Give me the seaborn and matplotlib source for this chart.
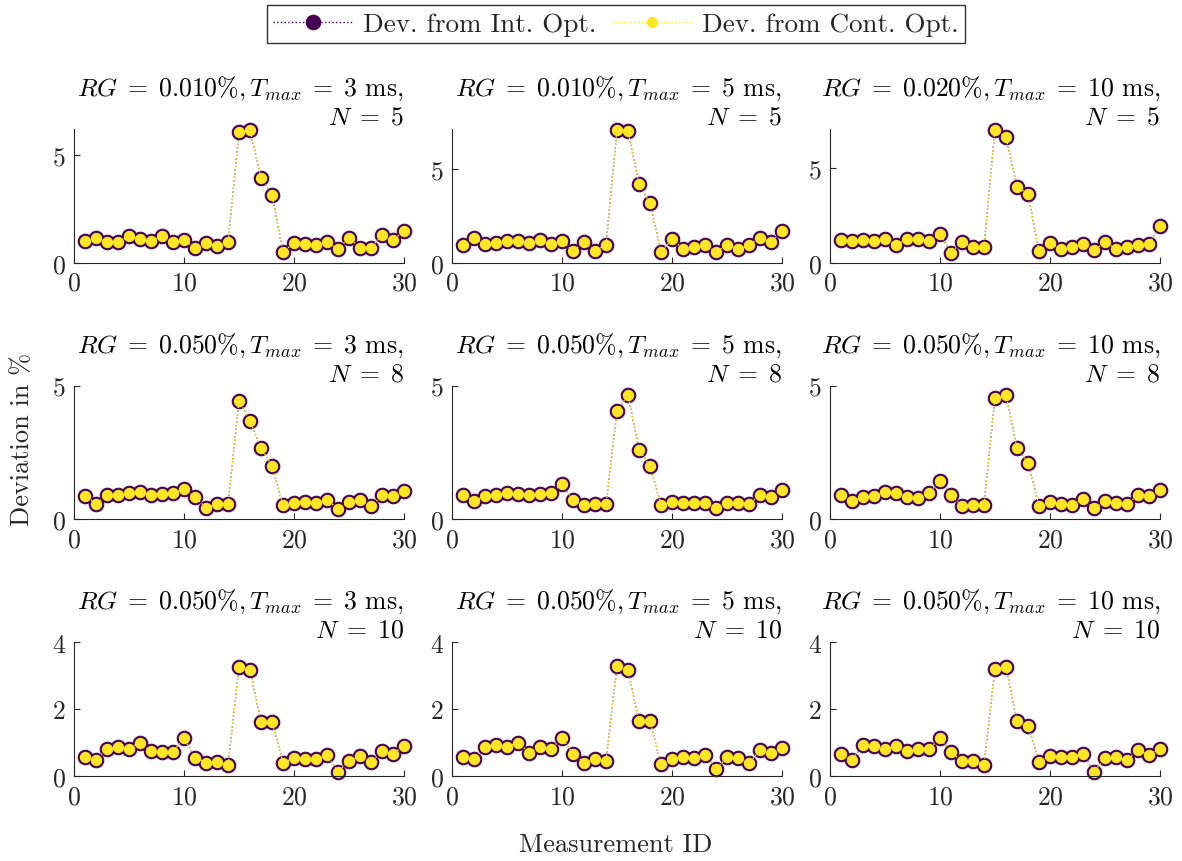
import numpy as np
import pandas as pd
import matplotlib
matplotlib.use("Agg")
import matplotlib.pyplot as plt
import seaborn as sns

# ---------------- data ----------------
measurement_id = list(range(1, 31))

rg_values = ["0.010", "0.010", "0.020", "0.050", "0.050", "0.050", "0.050", "0.050", "0.050"]
tmax_values = [3, 5, 10, 3, 5, 10, 3, 5, 10]
n_values = [5, 5, 5, 8, 8, 8, 10, 10, 10]

dev_int_1 = [0.99, 1.14, 0.96, 0.96, 1.22, 1.08, 1.03, 1.23, 0.96, 1.05, 0.68, 0.91, 0.80, 0.96, 6.05,
             6.14, 3.94, 3.15, 0.49, 0.93, 0.86, 0.82, 0.96, 0.63, 1.17, 0.69, 0.68, 1.30, 1.05, 1.48]
dev_int_2 = [0.96, 1.32, 1.00, 1.07, 1.14, 1.18, 1.04, 1.23, 1.02, 1.18, 0.61, 1.11, 0.64, 0.96, 7.11,
             7.05, 4.23, 3.18, 0.59, 1.25, 0.75, 0.82, 0.96, 0.57, 0.96, 0.71, 0.96, 1.34, 1.09, 1.71]
dev_int_3 = [1.18, 1.13, 1.20, 1.16, 1.23, 0.92, 1.27, 1.23, 1.13, 1.51, 0.53, 1.09, 0.83, 0.81, 7.00,
             6.62, 4.00, 3.64, 0.60, 1.04, 0.74, 0.83, 0.97, 0.65, 1.09, 0.74, 0.83, 0.93, 0.99, 1.94]
dev_int_4 = [0.89, 0.59, 0.90, 0.93, 0.98, 1.04, 0.93, 0.95, 0.98, 1.14, 0.84, 0.43, 0.56, 0.58, 4.43,
             3.67, 2.65, 2.01, 0.52, 0.60, 0.64, 0.60, 0.73, 0.40, 0.65, 0.72, 0.49, 0.90, 0.89, 1.05]
dev_int_5 = [0.93, 0.68, 0.87, 0.93, 1.00, 0.95, 0.90, 0.96, 1.00, 1.32, 0.71, 0.55, 0.58, 0.56, 4.04,
             4.66, 2.61, 1.99, 0.55, 0.65, 0.62, 0.61, 0.62, 0.42, 0.62, 0.62, 0.58, 0.90, 0.85, 1.11]
dev_int_6 = [0.90, 0.67, 0.82, 0.86, 1.02, 1.00, 0.85, 0.81, 0.98, 1.43, 0.92, 0.50, 0.55, 0.55, 4.55,
             4.66, 2.66, 2.10, 0.50, 0.65, 0.56, 0.53, 0.77, 0.42, 0.67, 0.62, 0.57, 0.90, 0.87, 1.09]
dev_int_7 = [0.56, 0.49, 0.82, 0.86, 0.82, 1.00, 0.74, 0.71, 0.73, 1.13, 0.55, 0.40, 0.42, 0.32, 3.27,
             3.17, 1.60, 1.60, 0.40, 0.53, 0.52, 0.52, 0.62, 0.12, 0.46, 0.59, 0.42, 0.74, 0.67, 0.90]
dev_int_8 = [0.56, 0.50, 0.87, 0.94, 0.88, 1.00, 0.70, 0.87, 0.81, 1.13, 0.67, 0.40, 0.50, 0.44, 3.30,
             3.16, 1.63, 1.63, 0.36, 0.52, 0.56, 0.54, 0.64, 0.20, 0.56, 0.54, 0.38, 0.78, 0.70, 0.85]
dev_int_9 = [0.65, 0.47, 0.94, 0.90, 0.80, 0.90, 0.74, 0.80, 0.80, 1.13, 0.72, 0.44, 0.46, 0.34, 3.20,
             3.26, 1.63, 1.51, 0.42, 0.60, 0.57, 0.57, 0.66, 0.12, 0.54, 0.57, 0.47, 0.77, 0.64, 0.82]

# the continuous-optimum deviations coincide with the integer ones in the picture
dev_cont_1 = list(dev_int_1)
dev_cont_2 = list(dev_int_2)
dev_cont_3 = list(dev_int_3)
dev_cont_4 = list(dev_int_4)
dev_cont_5 = list(dev_int_5)
dev_cont_6 = list(dev_int_6)
dev_cont_7 = list(dev_int_7)
dev_cont_8 = list(dev_int_8)
dev_cont_9 = list(dev_int_9)

dev_int = [dev_int_1, dev_int_2, dev_int_3, dev_int_4, dev_int_5, dev_int_6, dev_int_7, dev_int_8, dev_int_9]
dev_cont = [dev_cont_1, dev_cont_2, dev_cont_3, dev_cont_4, dev_cont_5, dev_cont_6, dev_cont_7, dev_cont_8, dev_cont_9]

series_labels = ["Dev. from Int. Opt.", "Dev. from Cont. Opt."]
x_ticks = [0, 10, 20, 30]
y_ticks_rows = [[0, 5], [0, 5], [0, 2, 4]]
y_top = [6.2, 7.15, 7.05, 5, 5, 5, 4, 4, 4]

# ---------------- style ----------------
sns.set_style("ticks")
plt.rcParams["font.family"] = ["cmr10", "DejaVu Serif"]
plt.rcParams["mathtext.fontset"] = "cm"
plt.rcParams["axes.formatter.use_mathtext"] = True
plt.rcParams["axes.unicode_minus"] = False

PURPLE = "#440154"
YELLOW = "#FDE725"
AX_COL = "#262626"

fig, axes = plt.subplots(3, 3, figsize=(11.82, 8.62), dpi=100)
fig.subplots_adjust(left=0.0626, right=0.9814, bottom=0.0986, top=0.8492,
                    wspace=0.145, hspace=0.918)

for i, ax in enumerate(axes.flat):
    df = pd.DataFrame({"id": measurement_id, "int": dev_int[i], "cont": dev_cont[i]})
    sns.lineplot(data=df, x="id", y="int", ax=ax, color=PURPLE, linestyle=":", linewidth=1.0,
                 marker="o", markersize=10.5, markerfacecolor=PURPLE, markeredgecolor=PURPLE,
                 label=series_labels[0], legend=False)
    sns.lineplot(data=df, x="id", y="cont", ax=ax, color=YELLOW, linestyle=":", linewidth=1.0,
                 marker="o", markersize=7.4, markerfacecolor=YELLOW, markeredgecolor=YELLOW,
                 label=series_labels[1], legend=False)
    ax.set_xlim(0, 30)
    ax.set_ylim(0, y_top[i])
    ax.set_xticks(x_ticks)
    ax.set_yticks(y_ticks_rows[i // 3])
    ax.set_xlabel("")
    ax.set_ylabel("")
    for side in ["top", "right"]:
        ax.spines[side].set_visible(False)
    for side in ["left", "bottom"]:
        ax.spines[side].set_color(AX_COL)
        ax.spines[side].set_linewidth(0.8)
    ax.tick_params(direction="in", length=4, width=0.8, colors=AX_COL, labelsize=18.5,
                   labelcolor=AX_COL, pad=6)
    for line in ax.lines:
        line.set_clip_on(False)
    title = (r"$RG\;=\;%s\%%, T_{max}\;=\;%d$ ms," % (rg_values[i], tmax_values[i])
             + "\n" + r"$N\;=\;%d$" % n_values[i])
    ax.set_title(title, loc="right", fontsize=18.5, color="black", pad=4, linespacing=1.15)

fig.text(0.521, 0.006, "Measurement ID", ha="center", va="bottom", fontsize=19, color=AX_COL)
fig.text(0.009, 0.49, "Deviation in %", ha="left", va="center", rotation=90, fontsize=19,
         color=AX_COL)

handles, labels = axes.flat[0].get_legend_handles_labels()
leg = fig.legend(handles, labels, loc="upper center", bbox_to_anchor=(0.521, 0.999), ncol=2,
                 frameon=True, fancybox=False, edgecolor="black", fontsize=19.5,
                 handlelength=2.9, columnspacing=0.6, borderpad=0.25, handletextpad=0.4,
                 borderaxespad=0.2)
leg.get_frame().set_linewidth(1.0)

fig.savefig("out.png", dpi=100)
